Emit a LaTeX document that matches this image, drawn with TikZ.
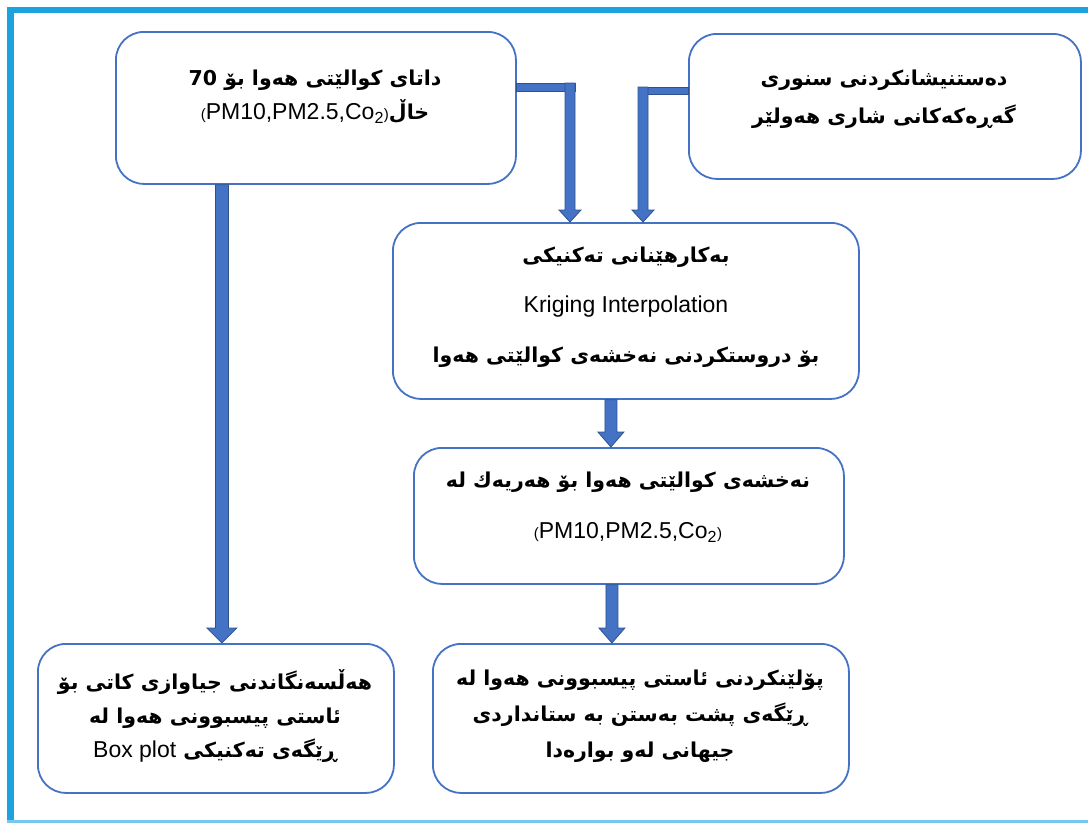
\documentclass[tikz,border=0pt]{standalone}
\usepackage{fontspec}
\usetikzlibrary{calc}
\TeXXeTstate=1
\setmainfont{Liberation Sans}
\newfontfamily\ku[Script=Arabic]{DejaVu Sans}
\newfontfamily\latin{Liberation Sans}
\definecolor{boxblue}{RGB}{68,114,196}
\definecolor{arrfill}{RGB}{68,114,196}
\definecolor{arredge}{RGB}{47,82,143}
\definecolor{framecyan}{RGB}{26,163,223}
\tikzset{
  box/.style={draw=boxblue, line width=1.8pt, rounded corners=28pt, fill=white, inner sep=0pt, anchor=north west},
  kutxt/.style={font=\ku\bfseries\fontsize{20.5}{36}\selectfont, align=center, text=black, inner sep=0pt},
  arrowbody/.style={fill=arrfill, draw=arredge, line width=0.8pt, line join=miter},
}
\newcommand\varrow[5]{%
  \path[arrowbody] let \p1=(#1), \p2=(#2) in
    (\x1-#3pt,\y1) -- (\x1+#3pt,\y1) -- (\x1+#3pt,\y2+#5pt) -- (\x1+#4pt,\y2+#5pt)
    -- (\x1,\y2) -- (\x1-#4pt,\y2+#5pt) -- (\x1-#3pt,\y2+#5pt) -- cycle;}
\newcommand\pms{{\latin\mdseries\fontsize{23}{23}\selectfont{\fontsize{15}{15}\selectfont(}PM10,PM2.5,Co\textsubscript{2}{\fontsize{15}{15}\selectfont)}}}
\begin{document}
\begin{tikzpicture}[x=1pt,y=-1pt]
\useasboundingbox (0,0) rectangle (1088,823);
% frame
\fill[framecyan] (7,7) rectangle (14,823);
\fill[framecyan] (7,7) rectangle (1088,13);
\fill[framecyan!60] (7,820) rectangle (1088,823);

% boxes
\node[box, minimum width=400pt, minimum height=152pt] (A) at (115,31) {};
\node[box, minimum width=392pt, minimum height=145pt] (B) at (688,33) {};
\node[box, minimum width=466pt, minimum height=176pt] (C) at (392,222) {};
\node[box, minimum width=430pt, minimum height=136pt] (D) at (413,447) {};
\node[box, minimum width=356pt, minimum height=149pt] (E) at (37,643) {};
\node[box, minimum width=416pt, minimum height=149pt] (F) at (432,643) {};

% texts
\node[kutxt] (tA) at (315,97) {\beginR داتای کوالێتی هەوا بۆ 70\endR\\[-2pt]\beginR خاڵ\beginL\pms\endL\endR};
\node[kutxt, font=\ku\bfseries\fontsize{20.5}{38}\selectfont] (tB) at (884,99) {\beginR دەستنیشانکردنی سنوری\endR\\\beginR گەڕەکەکانی شاری هەولێر\endR};
\node[kutxt, font=\ku\bfseries\fontsize{20.5}{50}\selectfont] (tC) at (626,307) {\beginR بەکارهێنانی تەکنیکی\endR\\{\latin\mdseries\fontsize{23}{23}\selectfont Kriging Interpolation}\\\beginR بۆ دروستکردنی نەخشەی کوالێتی هەوا\endR};
\node[kutxt, font=\ku\bfseries\fontsize{20.5}{51}\selectfont] (tD) at (628,507) {\beginR نەخشەی کوالێتی هەوا بۆ هەریەك لە\endR\\\pms};
\node[kutxt, font=\ku\bfseries\fontsize{20.5}{34}\selectfont] (tE) at (215,716) {\beginR هەڵسەنگاندنی جیاوازی کاتی بۆ\endR\\\beginR ئاستی پیسبوونی هەوا لە\endR\\\beginR ڕێگەی تەکنیکی \beginL{\latin\mdseries\fontsize{23}{23}\selectfont Box plot}\endL\endR};
\node[kutxt, font=\ku\bfseries\fontsize{20.5}{36}\selectfont] (tF) at (640,716) {\beginR پۆلێنکردنی ئاستی پیسبوونی هەوا لە\endR\\\beginR ڕێگەی پشت بەستن بە ستانداردی\endR\\\beginR جیهانی لەو بوارەدا\endR};

% connectors
\coordinate (a1) at ([xshift=-94pt]A.south);
\varrow{a1}{a1 |- E.north}{6.5}{15}{15}

\coordinate (a2) at (570,83);
\path[arrowbody] ($(A.east |- a2)+(0,0)$) rectangle ($(a2)+(5,8)$);
\varrow{a2}{a2 |- C.north}{5}{11}{12}

\coordinate (a3) at (643,87);
\path[arrowbody] ($(B.west |- a3)$) rectangle ($(a3)+(-5,7)$);
\varrow{a3}{a3 |- C.north}{5}{11}{12}

\coordinate (a4) at ([xshift=-15pt]C.south);
\varrow{a4}{a4 |- D.north}{6}{13}{15}

\coordinate (a5) at ([xshift=-17pt]D.south);
\varrow{a5}{a5 |- F.north}{6}{13}{15}
\end{tikzpicture}
\end{document}
